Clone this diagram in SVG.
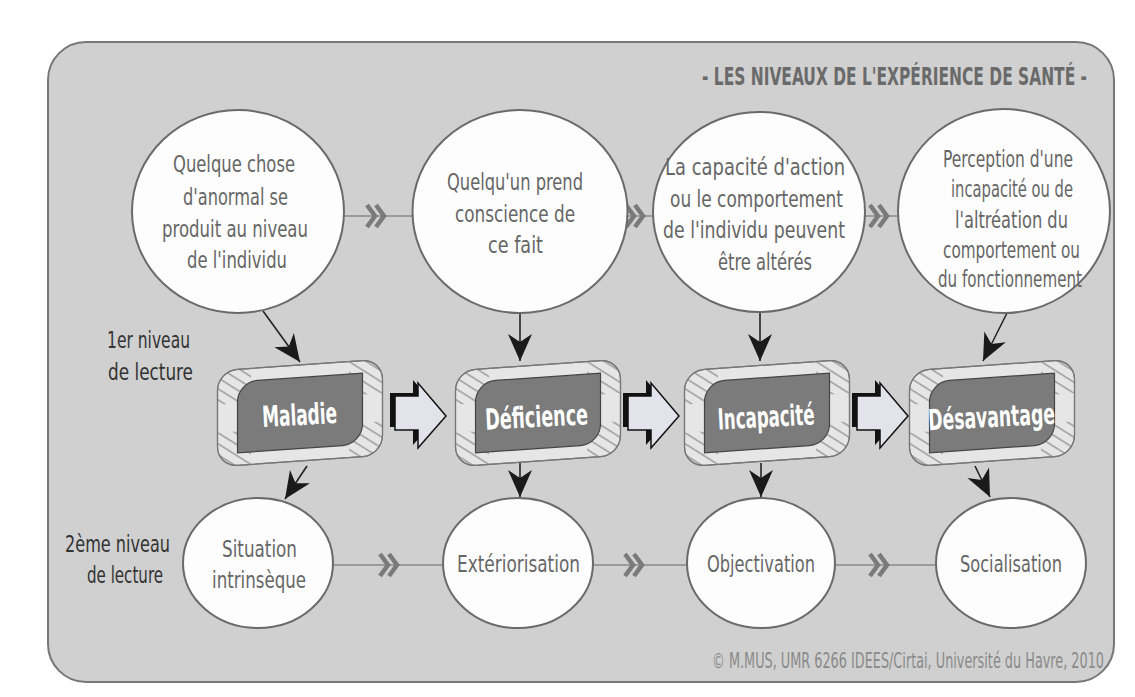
<svg xmlns="http://www.w3.org/2000/svg" width="1135" height="697" viewBox="0 0 1135 697">
<style>
text{font-family:"Liberation Sans Narrow","DejaVu Sans Condensed","Liberation Sans",sans-serif;text-anchor:middle}
.ct{font-size:23px;fill:#666}
.lbl{font-size:23px;fill:#333}
.bx{font-size:29px;fill:#fff;font-weight:bold}
.ttl{font-size:25px;fill:#6a6a6a;font-weight:bold;text-anchor:end}
.cp{font-size:21px;fill:#8a8a8a;text-anchor:end}
.circ{fill:#fdfdfd;stroke:#6a6a6a;stroke-width:2}
.hl{stroke:#8a8a8a;stroke-width:1.6;fill:none}
.con{stroke:#222;stroke-width:1.6;fill:none;marker-end:url(#ah)}
.outer{fill:#e6e6e6;stroke:#777;stroke-width:1.2}
.inner{fill:#7b7b7b;stroke:#444;stroke-width:1.2}
</style>
<defs>
<marker id="ah" markerUnits="userSpaceOnUse" markerWidth="30" markerHeight="28" viewBox="-28 -14 30 28" refX="0" refY="0" orient="auto">
<path d="M0,0 L-27,-12 L-19,0 L-27,12 Z" fill="#1a1a1a"/>
</marker>
<pattern id="hatch" width="9" height="9" patternUnits="userSpaceOnUse" patternTransform="rotate(35)">
<line x1="0" y1="4.5" x2="9" y2="4.5" stroke="#666" stroke-width="0.9"/>
</pattern>
<clipPath id="oclip"><rect x="-82.5" y="-48" width="165" height="96" rx="20"/></clipPath>
<g id="dbl"><path d="M-11,-11 L-3,0 L-11,11 M-2,-11 L6,0 L-2,11" fill="none" stroke="#7a7a7a" stroke-width="4.5"/></g>
<g id="blk">
<polygon points="-5,10 18,10 18,-3 46,30 18,62 18,44 -5,44" fill="#111"/>
<polygon points="0,13 23,13 23,0 51,33 23,65 23,47 0,47" fill="#e3e3eb" stroke="#111" stroke-width="1.5"/>
</g>
<g id="boxshape">
<rect class="outer" x="-82.5" y="-48" width="165" height="96" rx="20"/>
<g clip-path="url(#oclip)" fill="url(#hatch)">
<rect x="-83" y="-48" width="34" height="34"/>
<rect x="49" y="-48" width="34" height="34"/>
<rect x="-83" y="14" width="34" height="34"/>
<rect x="49" y="14" width="34" height="34"/>
</g>
<rect x="-82.5" y="-48" width="165" height="96" rx="20" fill="none" stroke="#777" stroke-width="1.2"/>
<path class="inner" d="M-62.5,-15.5 A20,20 0 0 1 -42.5,-35.5 L62.5,-35.5 L62.5,15.5 A20,20 0 0 1 42.5,35.5 L-62.5,35.5 Z"/>
</g>
</defs>

<rect width="1135" height="697" fill="#fff"/>
<rect id="panel" x="48" y="42" width="1066" height="640" rx="38" fill="#d0d0d0" stroke="#777" stroke-width="2"/>

<text id="title" class="ttl" x="1087" y="85" textLength="385" lengthAdjust="spacingAndGlyphs">- LES NIVEAUX DE L'EXPÉRIENCE DE SANTÉ -</text>

<g id="connectors">
<line class="hl" x1="344" y1="216" x2="898" y2="216"/>
<line class="hl" x1="333" y1="565" x2="936" y2="565"/>
<use href="#dbl" x="378" y="216"/>
<use href="#dbl" x="637" y="216"/>
<use href="#dbl" x="881" y="216"/>
<use href="#dbl" x="391" y="565"/>
<use href="#dbl" x="636" y="565"/>
<use href="#dbl" x="881" y="565"/>
<line class="con" x1="263" y1="311" x2="300" y2="362"/>
<line class="con" x1="520" y1="313" x2="520" y2="361"/>
<line class="con" x1="760" y1="312" x2="760" y2="361"/>
<line class="con" x1="1007" y1="313" x2="983" y2="361"/>
<line class="con" x1="307" y1="466" x2="285" y2="499"/>
<line class="con" x1="520" y1="463" x2="520" y2="497"/>
<line class="con" x1="761" y1="463" x2="761" y2="497"/>
<line class="con" x1="975" y1="466" x2="990" y2="497"/>
<use href="#blk" x="395" y="383"/>
<use href="#blk" x="628" y="383"/>
<use href="#blk" x="857" y="383"/>
</g>

<g id="c1">
<ellipse class="circ" cx="238" cy="211.5" rx="106" ry="101.5"/>
<text class="ct" x="234" y="172" textLength="122" lengthAdjust="spacingAndGlyphs">Quelque chose</text>
<text class="ct" x="235.5" y="205" textLength="105" lengthAdjust="spacingAndGlyphs">d'anormal se</text>
<text class="ct" x="235" y="237" textLength="146" lengthAdjust="spacingAndGlyphs">produit au niveau</text>
<text class="ct" x="237" y="268" textLength="100" lengthAdjust="spacingAndGlyphs">de l'individu</text>
</g>
<g id="c2">
<ellipse class="circ" cx="520" cy="211.5" rx="107.5" ry="101.5"/>
<text class="ct" x="515" y="190" textLength="136" lengthAdjust="spacingAndGlyphs">Quelqu'un prend</text>
<text class="ct" x="515" y="222" textLength="120" lengthAdjust="spacingAndGlyphs">conscience de</text>
<text class="ct" x="515.5" y="253" textLength="55" lengthAdjust="spacingAndGlyphs">ce fait</text>
</g>
<g id="c3">
<ellipse class="circ" cx="759" cy="212" rx="106" ry="100"/>
<text class="ct" x="755" y="175" textLength="180" lengthAdjust="spacingAndGlyphs">La capacité d'action</text>
<text class="ct" x="756.5" y="207" textLength="173" lengthAdjust="spacingAndGlyphs">ou le comportement</text>
<text class="ct" x="754" y="238" textLength="182" lengthAdjust="spacingAndGlyphs">de l'individu peuvent</text>
<text class="ct" x="765" y="270" textLength="94" lengthAdjust="spacingAndGlyphs">être altérés</text>
</g>
<g id="c4">
<ellipse class="circ" cx="1004" cy="211" rx="106" ry="102"/>
<text class="ct" x="1008" y="167" textLength="130" lengthAdjust="spacingAndGlyphs">Perception d'une</text>
<text class="ct" x="1012" y="197" textLength="122" lengthAdjust="spacingAndGlyphs">incapacité ou de</text>
<text class="ct" x="1011.5" y="228" textLength="113" lengthAdjust="spacingAndGlyphs">l'altréation du</text>
<text class="ct" x="1011.5" y="258" textLength="137" lengthAdjust="spacingAndGlyphs">comportement ou</text>
<text class="ct" x="1010" y="287" textLength="144" lengthAdjust="spacingAndGlyphs">du fonctionnement</text>
</g>

<g id="lvl1">
<text class="lbl" x="148.5" y="348" textLength="83" lengthAdjust="spacingAndGlyphs">1er niveau</text>
<text class="lbl" x="150.5" y="380" textLength="85" lengthAdjust="spacingAndGlyphs">de lecture</text>
</g>
<g id="lvl2">
<text class="lbl" x="117.5" y="552" textLength="105" lengthAdjust="spacingAndGlyphs">2ème niveau</text>
<text class="lbl" x="125" y="583" textLength="76" lengthAdjust="spacingAndGlyphs">de lecture</text>
</g>

<g id="b1">
<use href="#boxshape" transform="translate(300,413) skewY(-4)"/>
<text class="bx" x="299.5" y="425" textLength="75" lengthAdjust="spacingAndGlyphs" transform="rotate(-3 299.5 414)">Maladie</text>
</g>
<g id="b2">
<use href="#boxshape" transform="translate(538,413) skewY(-4)"/>
<text class="bx" x="536.5" y="427" textLength="103" lengthAdjust="spacingAndGlyphs" transform="rotate(-3 536.5 416)">Déficience</text>
</g>
<g id="b3">
<use href="#boxshape" transform="translate(767,413) skewY(-4)"/>
<text class="bx" x="766" y="427" textLength="97" lengthAdjust="spacingAndGlyphs" transform="rotate(-3 766 416)">Incapacité</text>
</g>
<g id="b4">
<use href="#boxshape" transform="translate(992,413) skewY(-4)"/>
<text class="bx" x="991.5" y="427" textLength="127" lengthAdjust="spacingAndGlyphs" transform="rotate(-3 991.5 416)">Désavantage</text>
</g>

<g id="d1">
<ellipse class="circ" cx="258" cy="563" rx="75" ry="65"/>
<text class="ct" x="259.5" y="557" textLength="75" lengthAdjust="spacingAndGlyphs">Situation</text>
<text class="ct" x="259" y="588" textLength="94" lengthAdjust="spacingAndGlyphs">intrinsèque</text>
</g>
<g id="d2">
<ellipse class="circ" cx="518" cy="563" rx="75" ry="65"/>
<text class="ct" x="518.5" y="572" textLength="123" lengthAdjust="spacingAndGlyphs">Extériorisation</text>
</g>
<g id="d3">
<ellipse class="circ" cx="761" cy="563" rx="74" ry="65"/>
<text class="ct" x="761" y="572" textLength="108" lengthAdjust="spacingAndGlyphs">Objectivation</text>
</g>
<g id="d4">
<ellipse class="circ" cx="1011" cy="563" rx="75" ry="65"/>
<text class="ct" x="1011" y="572" textLength="102" lengthAdjust="spacingAndGlyphs">Socialisation</text>
</g>

<text id="copyright" class="cp" x="1104" y="668" textLength="392" lengthAdjust="spacingAndGlyphs">© M.MUS, UMR 6266 IDEES/Cirtai, Université du Havre, 2010</text>
</svg>
